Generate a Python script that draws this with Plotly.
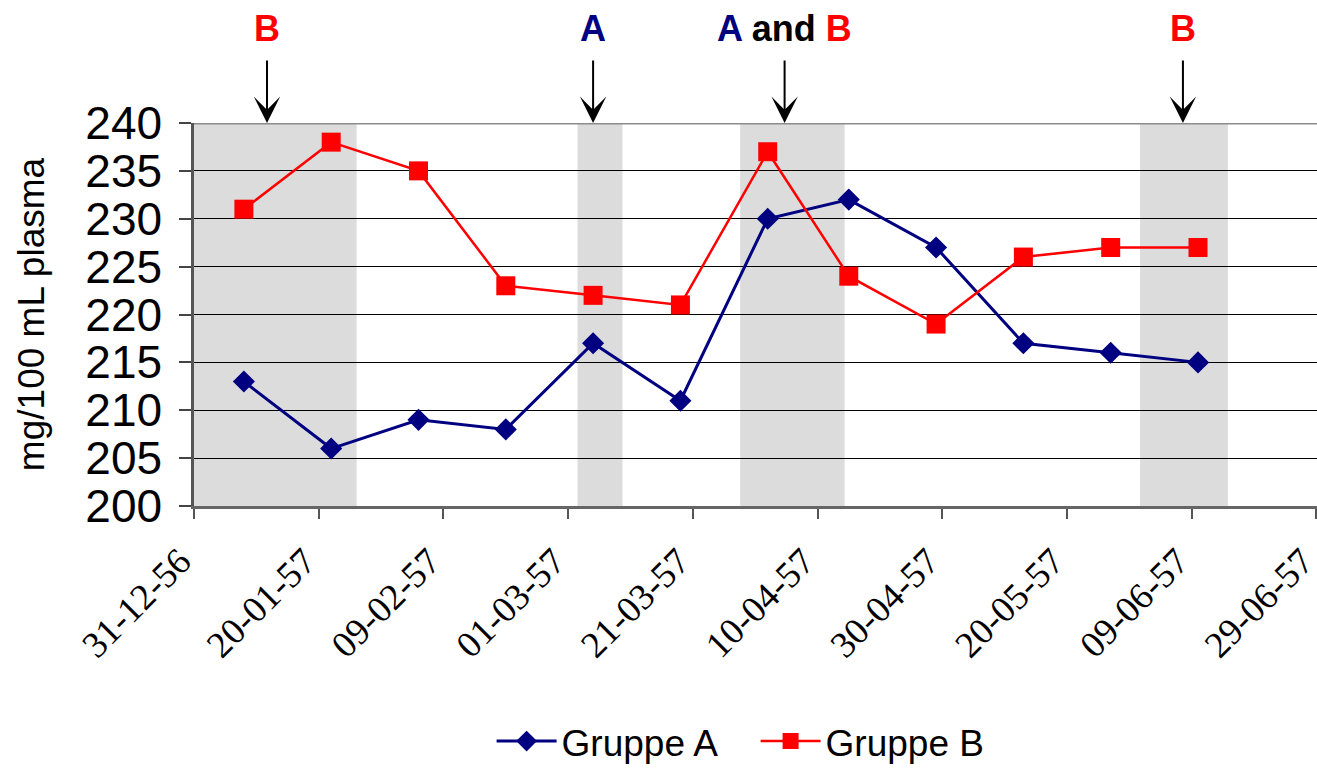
import plotly.graph_objects as go

# sampling dates and values (mg/100 mL plasma)
dates = ["1957-01-08", "1957-01-22", "1957-02-05", "1957-02-19", "1957-03-05", "1957-03-19",
         "1957-04-02", "1957-04-15", "1957-04-29", "1957-05-13", "1957-05-27", "1957-06-10"]
gruppe_a = [213, 206, 209, 208, 217, 211, 230, 232, 227, 217, 216, 215]
gruppe_b = [231, 238, 235, 223, 222, 221, 237, 224, 219, 226, 227, 227]

# grey periods
shade_start = ["1956-12-31", "1957-03-02 12:00", "1957-03-28 14:00", "1957-05-31 17:00"]
shade_end = ["1957-01-26 02:00", "1957-03-09 17:00", "1957-04-14 08:00", "1957-06-14 19:00"]

# arrow markers at the top
arrow_dates = ["1957-01-11 17:00", "1957-03-05", "1957-04-04 17:00", "1957-06-07 14:00"]
arrow_labels = [
    "<span style='color:#ff0000'>B</span>",
    "<span style='color:#000080'>A</span>",
    "<span style='color:#000080'>A</span> and <span style='color:#ff0000'>B</span>",
    "<span style='color:#ff0000'>B</span>",
]

fig = go.Figure()

fig.add_trace(
    go.Scatter(
        x=dates,
        y=gruppe_a,
        mode="lines+markers",
        name="Gruppe A",
        line=dict(color="#000080", width=3),
        marker=dict(symbol="diamond", size=17, color="#000080"),
    )
)
fig.add_trace(
    go.Scatter(
        x=dates,
        y=gruppe_b,
        mode="lines+markers",
        name="Gruppe B",
        line=dict(color="#ff0000", width=2.5),
        marker=dict(symbol="square", size=19, color="#ff0000"),
    )
)

for s, e in zip(shade_start, shade_end):
    fig.add_vrect(x0=s, x1=e, fillcolor="#dcdcdc", line_width=0, layer="below")

# grey top border of the plot area
fig.add_shape(type="line", xref="paper", yref="y", x0=0, x1=1, y0=240, y1=240,
              line=dict(color="#8c8c8c", width=3))

for d, lab in zip(arrow_dates, arrow_labels):
    fig.add_annotation(x=d, y=240, xref="x", yref="y", text="", showarrow=True,
                       ax=0, ay=-64, arrowhead=3, arrowsize=2.2, arrowwidth=2,
                       arrowcolor="black")
    fig.add_annotation(x=d, y=1.246, xref="x", yref="paper", text=lab, showarrow=False,
                       yanchor="middle", font=dict(family="Liberation Sans", size=36,
                                                   color="black", weight="bold"))

fig.update_layout(
    width=1317,
    height=773,
    paper_bgcolor="white",
    plot_bgcolor="white",
    margin=dict(l=194, r=0, t=123, b=264),
    showlegend=True,
    legend=dict(
        orientation="h",
        x=0.265,
        xanchor="left",
        y=-0.615,
        yanchor="middle",
        font=dict(family="Liberation Sans", size=37, color="black"),
        itemwidth=60,
        entrywidth=189,
    ),
    xaxis=dict(
        type="date",
        automargin=False,
        range=["1956-12-31", "1957-06-29 02:00"],
        tick0="1956-12-31",
        dtick=20 * 86400000,
        tickformat="%d-%m-%y",
        tickangle=-45,
        tickfont=dict(family="Liberation Serif", size=37, color="black"),
        ticklabeloverflow="allow",
        ticklabelstandoff=6,
        ticklabelshift=-14,
        ticks="outside",
        ticklen=10,
        tickwidth=1.5,
        tickcolor="#555555",
        showline=True,
        linecolor="#666666",
        linewidth=2.5,
        showgrid=False,
        zeroline=False,
    ),
    yaxis=dict(
        automargin=False,
        range=[200, 240],
        dtick=5,
        tickfont=dict(family="Liberation Sans", size=46, color="black"),
        ticks="outside",
        ticklen=12,
        tickwidth=1.5,
        tickcolor="#444444",
        ticklabelstandoff=8,
        showline=True,
        linecolor="#555555",
        linewidth=2.5,
        showgrid=True,
        gridcolor="black",
        gridwidth=1,
        zeroline=False,
        title=dict(text="mg/100 mL plasma",
                   font=dict(family="Liberation Sans", size=37, color="black"),
                   standoff=30),
    ),
)

fig.write_html(
    "out.html",
    config={"displayModeBar": False},
    post_script="document.body.style.margin='0';document.body.style.overflow='hidden';",
)
